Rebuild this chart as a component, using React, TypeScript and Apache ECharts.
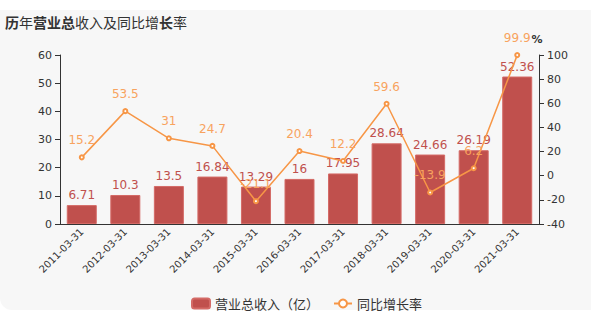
import React, { useEffect, useRef } from "react";
import * as echarts from "echarts";

const categories = ["2011-03-31", "2012-03-31", "2013-03-31", "2014-03-31", "2015-03-31", "2016-03-31", "2017-03-31", "2018-03-31", "2019-03-31", "2020-03-31", "2021-03-31"];
const revenue = [6.71, 10.3, 13.5, 16.84, 13.29, 16, 17.95, 28.64, 24.66, 26.19, 52.36];
const growth = [15.2, 53.5, 31, 24.7, -21.1, 20.4, 12.2, 59.6, -13.9, 6.2, 99.9];
const seriesNames = ["营业总收入（亿）", "同比增长率"];

export default function App() {
  const ref = useRef<HTMLDivElement>(null);
  useEffect(() => {
    const chart = echarts.init(ref.current!, null, { renderer: "svg" });
    const font = "'DejaVu Sans', 'Noto Sans CJK SC', sans-serif";
    chart.setOption({
      animation: false,
      backgroundColor: "#ffffff",
      textStyle: { fontFamily: font },
      graphic: [
        {
          type: "rect",
          z: -10,
          silent: true,
          shape: { x: 0, y: 10, width: 591, height: 300, r: [0, 0, 0, 12] },
          style: { fill: "#f7f7f7" },
        },
      ],
      title: {
        text: "{b|历}年{b|营业总}收入及同比增{b|长}率",
        left: 0,
        top: 10,
        textStyle: {
          fontSize: 14,
          fontWeight: "normal",
          color: "#333",
          fontFamily: "'Noto Sans CJK SC', sans-serif",
          rich: {
            b: { fontSize: 14, fontWeight: "bold", color: "#333", fontFamily: "'Noto Sans CJK SC', sans-serif" },
          },
        },
      },
      legend: {
        left: 186,
        top: 292,
        itemWidth: 18,
        itemHeight: 10,
        itemGap: 14,
        textStyle: { fontSize: 13, color: "#333", fontFamily: "'Noto Sans CJK SC', sans-serif" },
        data: [
          { name: seriesNames[0], icon: "roundRect" },
          { name: seriesNames[1] },
        ],
      },
      grid: { left: 60, right: 52, top: 55, bottom: 102 },
      xAxis: {
        type: "category",
        data: categories,
        axisLine: { lineStyle: { color: "#333" } },
        axisTick: { lineStyle: { color: "#333" } },
        axisLabel: { rotate: 45, fontSize: 10, color: "#333", interval: 0, margin: 6 },
      },
      yAxis: [
        {
          type: "value",
          min: 0,
          max: 60,
          interval: 10,
          splitLine: { show: false },
          axisLine: { show: true, lineStyle: { color: "#333" } },
          axisTick: { show: true, lineStyle: { color: "#333" } },
          axisLabel: { fontSize: 11, color: "#333" },
        },
        {
          type: "value",
          min: -40,
          max: 100,
          interval: 20,
          name: "%",
          nameGap: 10,
          nameTextStyle: { fontSize: 11, color: "#333", fontWeight: "bold", padding: [0, 4, 0, 0] },
          splitLine: { show: false },
          axisLine: { show: true, lineStyle: { color: "#333" } },
          axisTick: { show: true, lineStyle: { color: "#333" } },
          axisLabel: { fontSize: 11, color: "#333" },
        },
      ],
      series: [
        {
          name: seriesNames[0],
          type: "bar",
          data: revenue,
          barWidth: 30,
          itemStyle: { color: "#c0504d", borderColor: "#d46a66", borderWidth: 1 },
          label: { show: true, position: "top", fontSize: 12, color: "#c0504d", distance: 4 },
        },
        {
          name: seriesNames[1],
          type: "line",
          yAxisIndex: 1,
          data: growth,
          symbol: "emptyCircle",
          symbolSize: 4,
          lineStyle: { color: "#f79646", width: 1.5 },
          itemStyle: { color: "#f79646", borderColor: "#fbc89e", borderWidth: 1 },
          label: { show: true, position: "top", fontSize: 12, color: "#f8a35e", distance: 8 },
        },
      ],
    });
    return () => chart.dispose();
  }, []);
  return <div ref={ref} style={{ position: "fixed", left: 0, top: 0, width: 591, height: 326 }} />;
}
